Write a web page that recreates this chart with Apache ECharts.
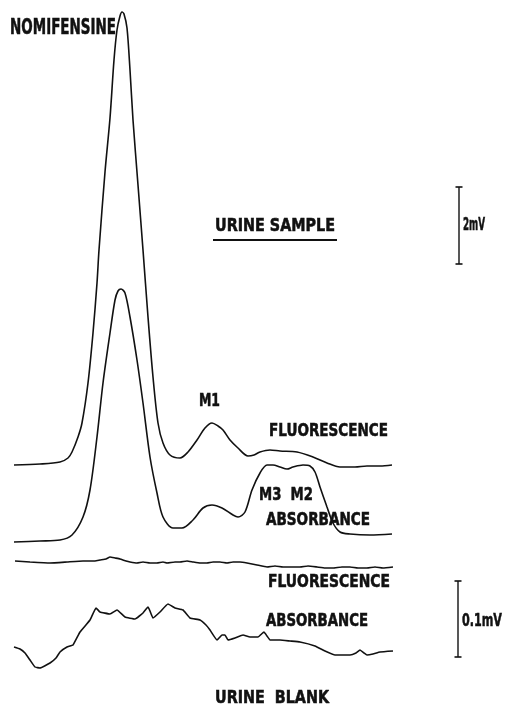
<!DOCTYPE html>
<html>
<head>
<meta charset="utf-8">
<script src="https://cdn.jsdelivr.net/npm/echarts@6/dist/echarts.min.js"></script>
<style>
html,body{margin:0;padding:0;background:#fff;}
#chart{width:507px;height:714px;}
</style>
</head>
<body>
<div id="chart"></div>
<script>
// x = retention time position, y = recorder chart position (top = 0)
var sampleFluorescence = [
  [14,465],[40,464],[60,462],[68,458],[72,452],[78,437],[82,423],[88,383],[93,333],[97,283],[99,250],
  [105,172],[110,118],[114,60],[117,30],[120,16],[122,12],[124,14],[127,28],[130,70],[133,120],[138,185],[143,250],
  [148,317],[153,377],[158,423],[163,443],[170,455],[180,458],[188,452],[197,440],[205,428],[212,423],
  [218,426],[223,430],[230,440],[238,448],[248,456],[254,455],[260,452],[270,450],[280,451],[297,452],
  [313,457],[327,463],[340,467],[355,467],[367,466],[380,466],[392,465]
];
var sampleAbsorbance = [
  [14,542],[40,541],[60,540],[72,535],[83,517],[90,490],[97,437],[103,383],[110,333],[115,300],
  [118,291],[121,289],[125,293],[130,317],[137,360],[143,403],[150,457],[157,493],[163,517],[173,528],
  [182,528],[193,520],[203,508],[212,505],[222,508],[233,515],[238,517],[245,512],[252,490],[260,473],
  [267,465],[273,465],[280,467],[287,469],[293,467],[303,465],[310,466],[315,472],[320,487],[327,507],
  [333,523],[340,532],[350,534],[370,535],[392,534]
];
var blankFluorescence = [
  [15,561],[30,562],[50,563],[67,562],[83,561],[95,561],[100,560],[106,559],[110,557],[115,558],[120,559],
  [126,561],[130,562],[137,563],[143,562],[150,563],[157,563],[163,562],[167,563],[175,562],[180,562],
  [187,561],[193,562],[200,563],[207,563],[213,562],[220,562],[227,563],[233,562],[240,562],[247,563],
  [257,565],[267,567],[275,566],[283,567],[292,567],[300,567],[308,566],[317,567],[325,568],[333,568],
  [342,567],[350,567],[358,568],[367,568],[375,567],[383,568],[393,567]
];
var blankAbsorbance = [
  [14,647],[20,649],[25,653],[30,660],[35,667],[40,668],[50,663],[56,658],[60,652],[67,647],[73,645],
  [80,632],[90,620],[96,608],[100,612],[110,614],[117,610],[125,617],[135,619],[143,613],[148,607],
  [150,611],[153,618],[160,612],[168,604],[175,608],[183,610],[190,618],[200,620],[206,625],[210,630],
  [217,640],[222,635],[225,635],[228,640],[235,638],[243,635],[250,637],[258,637],[264,632],[267,636],
  [270,640],[280,640],[290,641],[300,642],[315,646],[325,651],[335,655],[350,655],[356,653],[360,650],
  [364,653],[367,655],[373,654],[380,652],[393,651]
];
// calibration bars
var scaleBar2mV = [[459,187],[459,264]];
var scaleBar01mV = [[458,581],[458,657]];

var FONT = "'DejaVu Sans',sans-serif";
var measureCtx = document.createElement('canvas').getContext('2d');
function lineSeries(name, data, smooth){
  return {name:name, type:'line', data:data, smooth:smooth, showSymbol:false, symbol:'none',
    lineStyle:{color:'#111', width:1.6}, animation:false, silent:true};
}
function barSeries(name, data){
  return {name:name, type:'line', data:data, symbol:'rect', symbolSize:[7,1.6], showSymbol:true,
    itemStyle:{color:'#111'}, lineStyle:{color:'#111', width:1.4}, animation:false, silent:true};
}
// text label fitted to a target width (condensed heavy lettering of the original)
function txt(s, x1, x2, yc, size){
  var font = 'bold ' + size + 'px ' + FONT;
  measureCtx.font = font;
  var w = measureCtx.measureText(s).width;
  return {type:'text', x:x1, y:yc, scaleX:(x2 - x1) / w, scaleY:1,
    style:{text:s, fill:'#111', stroke:'#111', lineWidth:0.6, font:font,
      textVerticalAlign:'middle', textAlign:'left'}};
}
var chart = echarts.init(document.getElementById('chart'));
chart.setOption({
  backgroundColor:'#fff',
  animation:false,
  grid:{left:0,right:0,top:0,bottom:0},
  xAxis:{type:'value', min:0, max:507, show:false},
  yAxis:{type:'value', min:0, max:714, inverse:true, show:false},
  series:[
    lineSeries('Urine sample fluorescence', sampleFluorescence, 0.3),
    lineSeries('Urine sample absorbance', sampleAbsorbance, 0.3),
    lineSeries('Urine blank fluorescence', blankFluorescence, 0.1),
    lineSeries('Urine blank absorbance', blankAbsorbance, 0.1),
    barSeries('2 mV', scaleBar2mV),
    barSeries('0.1 mV', scaleBar01mV)
  ],
  graphic:[
    txt('NOMIFENSINE', 10, 116, 29, 21),
    txt('URINE SAMPLE', 215, 335, 226, 18),
    {type:'line', shape:{x1:213,y1:240,x2:337,y2:240}, style:{stroke:'#111', lineWidth:2}},
    txt('2mV', 463, 485, 226, 17),
    txt('M1', 199, 220, 401, 18),
    txt('FLUORESCENCE', 269, 388, 431, 18),
    txt('M3  M2', 259, 313, 495, 18),
    txt('ABSORBANCE', 266, 370, 520, 18),
    txt('FLUORESCENCE', 268, 390, 582, 18),
    txt('ABSORBANCE', 266, 368, 621, 18),
    txt('0.1mV', 462, 502, 621, 18),
    txt('URINE  BLANK', 215, 329, 698, 18)
  ]
});
</script>
</body>
</html>
